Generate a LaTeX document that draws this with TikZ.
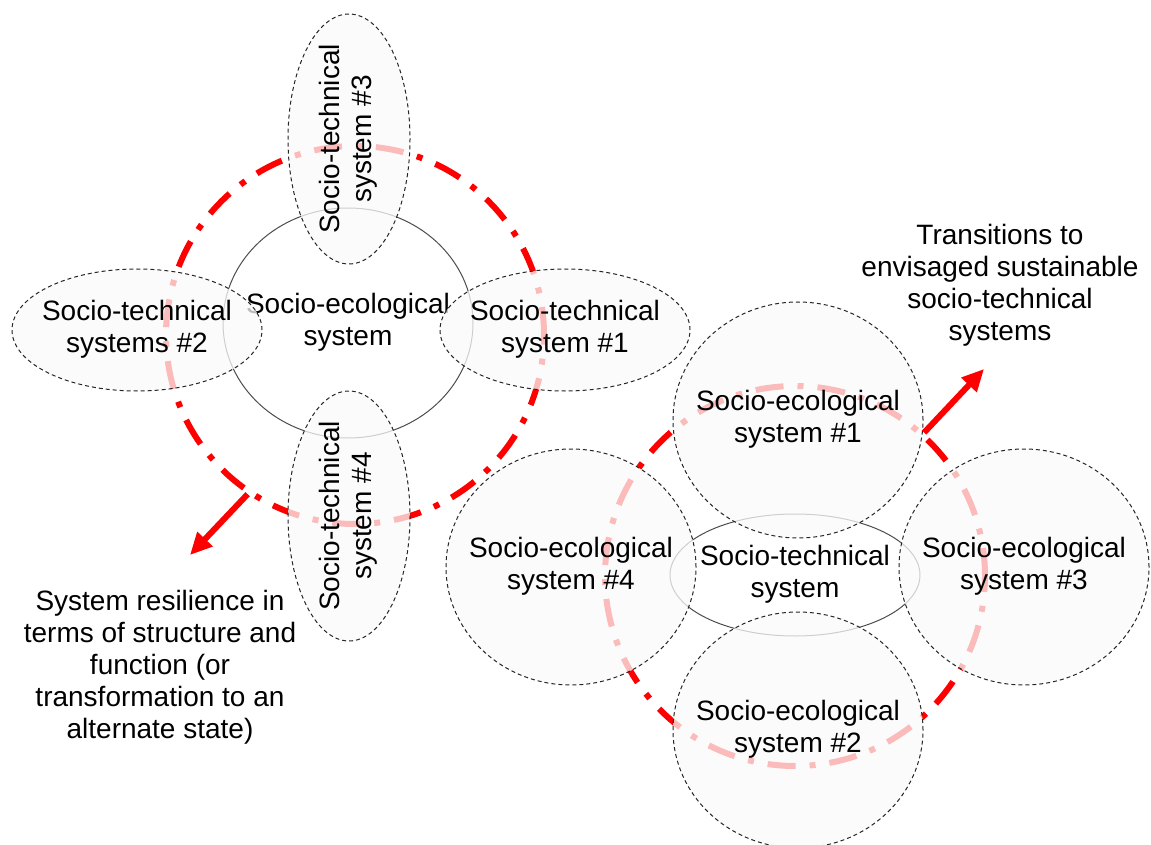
\documentclass[tikz,border=0pt]{standalone}
\usepackage{fontspec}
\setmainfont{Liberation Sans}
\usetikzlibrary{shapes.geometric,arrows.meta}
% two centred lines that do not widen the shape round them
\newcommand{\twoline}[2]{\makebox[0pt]{\begin{tabular}{@{}c@{}}#1\\#2\end{tabular}}}

\begin{document}
\begin{tikzpicture}[x=0.5pt, y=-0.5pt,
  txt/.style={font=\fontsize{14pt}{16pt}\selectfont, align=center},
  ring/.style={circle, draw=red, line width=3pt, dash pattern=on 14pt off 7pt on 3pt off 7pt, minimum size=189pt, inner sep=0pt},
  core/.style={ellipse, txt, draw=black!70, line width=0.5pt, inner sep=0pt},
  part/.style={ellipse, txt, draw=black!85, line width=0.5pt, dash pattern=on 2pt off 1.5pt, fill=black!2, fill opacity=0.75, text opacity=1, inner sep=0pt, minimum width=125pt, minimum height=61pt},
  ses/.style={part, minimum width=125pt, minimum height=118pt},
  moveto/.style={draw=red, line width=3pt, -{Triangle[length=11pt, width=10pt]}}]
\useasboundingbox (0,0) rectangle (1151,845);

% left: one socio-ecological system, several socio-technical systems
\node (resL) [ring] at (355,335) {};
\node (sesL) [core, minimum width=125pt, minimum height=115pt] at (348,323) {\twoline{Socio-ecological}{system}};
\node (st3) [part, rotate=90] at (349,139) {\twoline{Socio-technical}{system \#3}};
\node (st2) [part] at (137,330) {\twoline{Socio-technical}{systems \#2}};
\node (st1) [part] at (565,330) {\twoline{Socio-technical}{system \#1}};
\node (st4) [part, rotate=90] at (349,516) {\twoline{Socio-technical}{system \#4}};

% right: one socio-technical system, several socio-ecological systems
\node (resR) [ring, minimum size=190pt] at (795,576) {};
\node (stR) [core, minimum width=125pt, minimum height=61pt] at (795,575) {\twoline{Socio-technical}{system}};
\node (ses1) [ses] at (798,420) {\twoline{Socio-ecological}{system \#1}};
\node (ses2) [ses] at (798,730) {\twoline{Socio-ecological}{system \#2}};
\node (ses3) [ses] at (1024,567) {\twoline{Socio-ecological}{system \#3}};
\node (ses4) [ses] at (571,567) {\twoline{Socio-ecological}{system \#4}};

\node (resil) [txt] at (160,667) {System resilience in\\terms of structure and\\function (or\\transformation to an\\alternate state)};
\node (trans) [txt] at (1000,285) {Transitions to\\envisaged sustainable\\socio-technical\\systems};

\coordinate (tipL) at (190,555);
\coordinate (tipR) at (984,369);
\draw[moveto] (resL.236) -- (tipL);
\draw[moveto] (resR.48) -- (tipR);
\end{tikzpicture}
\end{document}
